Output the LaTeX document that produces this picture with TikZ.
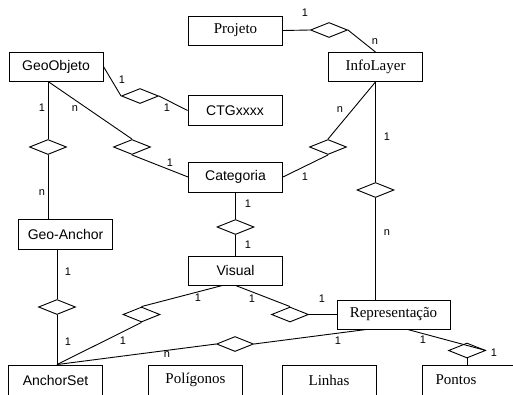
\documentclass[tikz,border=0pt]{standalone}
\usepackage{fontspec}
\setmainfont{Liberation Serif}
\setsansfont{Liberation Sans}
\usetikzlibrary{shapes.geometric,calc}
\begin{document}
\begin{tikzpicture}[x=1pt,y=-1pt,
  ent/.style={draw,line width=0.9pt,minimum width=94pt,minimum height=29pt,inner sep=0pt,font=\sffamily\fontsize{14}{14}\selectfont},
  ents/.style={ent,font=\rmfamily\fontsize{15}{15}\selectfont},
  rel/.style={draw,diamond,aspect=2.5,minimum width=37pt,minimum height=15pt,inner sep=0pt,line width=0.9pt},
  card/.style={font=\sffamily\fontsize{11}{11}\selectfont,inner sep=0pt},
  conn/.style={line width=0.9pt}]
\useasboundingbox (0,0) rectangle (513,394);
\clip (0,0) rectangle (513,394);
\fill[white] (0,0) rectangle (513,394);

% entities
\node[ents] (Projeto) at (235.5,30.5) {Projeto};
\node[ent] (GeoObjeto) at (56,66.5) {GeoObjeto};
\node[ents] (InfoLayer) at (375.5,67) {InfoLayer};
\node[ent,minimum height=30pt] (CTG) at (235,110.5) {CTGxxxx};
\node[ent,minimum height=30pt] (Categoria) at (235.5,177) {Categoria};
\node[ent,minimum height=30pt] (GeoAnchor) at (65.5,234) {Geo-Anchor};
\node[ent] (Visual) at (235.5,270.5) {Visual};
\node[ents,minimum width=113pt] (Repr) at (393.5,314.5) {Representação};
\node[ent,minimum height=30pt] (AnchorSet) at (55.5,380) {AnchorSet};
\node[ents,minimum height=30pt] (Poligonos) at (195.5,380) {Polígonos};
\node[ents,minimum height=30pt] (Linhas) at (329,380) {Linhas};
\node[ents,minimum height=30pt] (Pontos) at (469.5,380) {\makebox[94pt][l]{\hspace{13pt}Pontos}};

% relationships
\node[rel] (d1) at (329,30) {};
\node[rel] (d2) at (140,96) {};
\node[rel] (d3) at (48,147) {};
\node[rel] (d4) at (132,147) {};
\node[rel] (d5) at (328,147) {};
\node[rel] (d6) at (375.5,190) {};
\node[rel] (d7) at (235.5,227) {};
\node[rel] (d8) at (57,307) {};
\node[rel] (d9) at (141.5,314.5) {};
\node[rel] (d10) at (290,314.5) {};
\node[rel] (d11) at (235,344) {};
\node[rel] (d12) at (467,350.5) {};

% connectors
\draw[conn] (Projeto.east) -- (d1.west);
\draw[conn] (d1.east) -- (InfoLayer.north);
\draw[conn] (GeoObjeto.east) -- (d2.west);
\draw[conn] (d2.east) -- (CTG.west);
\coordinate (go) at (d3 |- GeoObjeto.south);
\draw[conn] (go) -- (d3.north);
\draw[conn] (d3.south) -- (d3 |- GeoAnchor.north);
\draw[conn] (go) -- (d4.north);
\draw[conn] (d4.south) -- (Categoria.west);
\draw[conn] (InfoLayer.south) -- (d5.north);
\draw[conn] (d5.south) -- (Categoria.east);
\draw[conn] (InfoLayer.south) -- (d6.north);
\draw[conn] (d6.south) -- (d6 |- Repr.north);
\draw[conn] (Categoria.south) -- (d7.north);
\draw[conn] (d7.south) -- (Visual.north);
\draw[conn] (d8 |- GeoAnchor.south) -- (d8.north);
\coordinate (as) at (d8 |- AnchorSet.north);
\draw[conn] (d8.south) -- (as);
\coordinate (v1) at ($(Visual.south)+(-13,0)$);
\draw[conn] (v1) -- (d9.north);
\draw[conn] (d9.south) -- (as);
\draw[conn] (Visual.south) -- (d10.north);
\draw[conn] (d10.east) -- (Repr.west);
\coordinate (r1) at ($(Repr.south west)+(30,0)$);
\coordinate (r2) at ($(Repr.south west)+(71,0)$);
\draw[conn] (as) -- (d11.west);
\draw[conn] (d11.east) -- (r1);
\draw[conn] (r2) -- (d12.east);
\draw[conn] (d12.south) -- (d12 |- Pontos.north);

% cardinalities
\node[card] (l1) at (305,13) {1};
\node[card] (l2) at (375,42) {n};
\node[card] (l3) at (122,80) {1};
\node[card] (l4) at (167,108) {1};
\node[card] (l5) at (42,108) {1};
\node[card] (l6) at (75,109) {n};
\node[card] (l7) at (42,193) {n};
\node[card] (l8) at (170,163) {1};
\node[card] (l9) at (340,110) {n};
\node[card] (l10) at (305,177) {1};
\node[card] (l11) at (387,137) {1};
\node[card] (l12) at (387,233) {n};
\node[card] (l13) at (248,204) {1};
\node[card] (l14) at (248,245) {1};
\node[card] (l15) at (68,272) {1};
\node[card] (l16) at (68,342) {1};
\node[card] (l17) at (198,298) {1};
\node[card] (l18) at (123,341) {1};
\node[card] (l19) at (167,355) {n};
\node[card] (l20) at (252,299) {1};
\node[card] (l21) at (322,299) {1};
\node[card] (l22) at (338,341) {1};
\node[card] (l23) at (423,340) {1};
\node[card] (l24) at (494,353) {1};
\end{tikzpicture}
\end{document}
